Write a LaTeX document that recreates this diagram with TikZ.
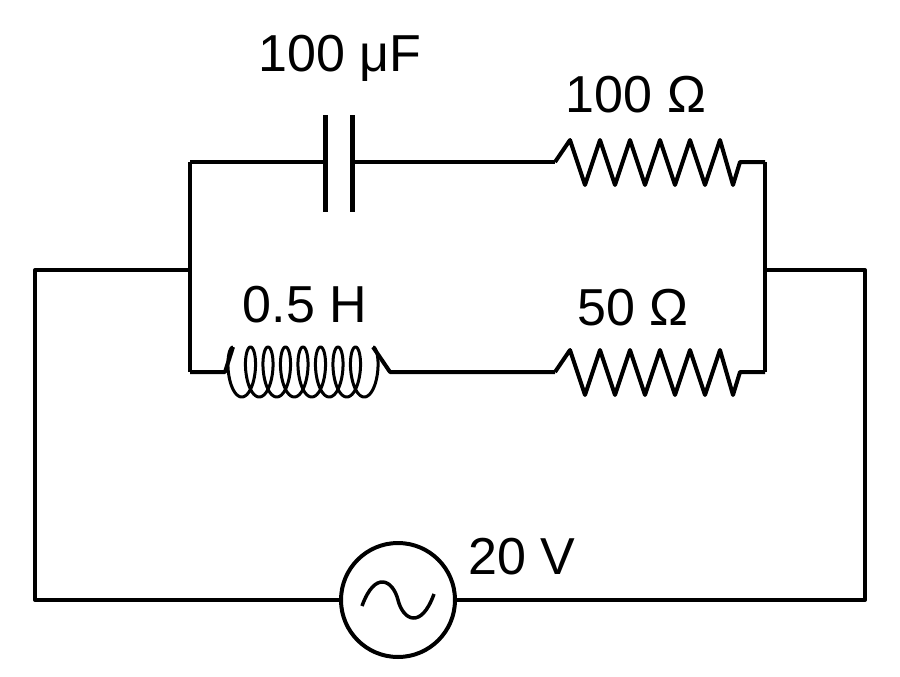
\documentclass[tikz,border=0pt]{standalone}
\usepackage{fontspec}
\setmainfont{Liberation Sans}
\begin{document}
\begin{tikzpicture}[x=1pt,y=-1pt,line width=4pt,line join=round,
  lbl/.style={font=\fontsize{52}{56}\selectfont,inner sep=0pt}]
\useasboundingbox (0,0) rectangle (900,677);
% coordinates
\coordinate (ol) at (35,270); \coordinate (or) at (865,270);
\coordinate (bl) at (35,600); \coordinate (br) at (865,600);
\coordinate (lt) at (190,162); \coordinate (lb) at (190,372);
\coordinate (rt) at (765,162); \coordinate (rb) at (765,372);
\coordinate (il) at (190,270); \coordinate (ir) at (765,270);
\node[circle,draw,minimum size=114pt,inner sep=0pt] (src) at (398,600) {};
% outer loop
\draw (il) -- (ol) -- (bl) -- (src.west);
\draw (src.east) -- (br) -- (or) -- (ir);
\draw (lt) -- (lb); \draw (rt) -- (rb);
% top branch
\coordinate (c1) at (325,162); \coordinate (c2) at (352,162);
\draw (lt) -- (c1); \draw (c2) -- (555,162);
\draw[line width=5pt] (325,115) -- (325,212); \draw[line width=5pt] (352,115) -- (352,212);
\draw (555,162) -- (570,140) \foreach \i in {1,...,5}{ -- ({570+30*\i-15},185) -- ({570+30*\i},140)} -- (733,185) -- (740,162) -- (rt);
% bottom branch
\draw (555,372) -- (570,350) \foreach \i in {1,...,5}{ -- ({570+30*\i-15},395) -- ({570+30*\i},350)} -- (733,395) -- (740,372) -- (rb);
\draw[line width=3pt] plot[domain=0:8,samples=400,smooth] ({233+17.5*\x-9*sin(\x*360)},{372-25*cos(\x*360)});
\draw (lb) -- (225,372) -- (233,347);
\draw (373,347) -- (390,372) -- (555,372);
% tilde
\draw[line width=3.5pt] (362,606) .. controls (375,570) and (393,580) .. (398,600) .. controls (403,620) and (421,630) .. (434,594);
% labels
\node[lbl] (l1) at (340,58) {100 μF};
\node[lbl] (l2) at (636,95) {100 Ω};
\node[lbl] (l3) at (305,305) {0.5 H};
\node[lbl] (l4) at (633,308) {50 Ω};
\node[lbl] (l5) at (522,557) {20 V};
\end{tikzpicture}
\end{document}
